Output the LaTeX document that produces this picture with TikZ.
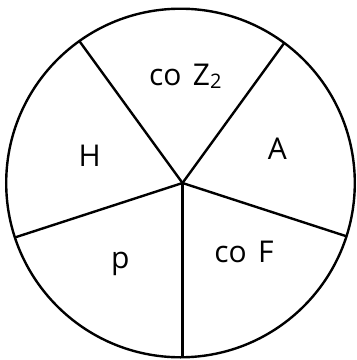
\documentclass[tikz,border=0pt]{standalone}
\usepackage{fontspec}
\setmainfont{Open Sans}
\begin{document}
\begin{tikzpicture}[x=1pt,y=1pt,
  edge/.style={line width=2.4pt},
  lbl/.style={anchor=base,inner sep=0pt,font=\fontsize{30}{36}\selectfont}]
\useasboundingbox (0,0) rectangle (357,-360);
\coordinate (c) at (180.5,-183);
\coordinate (hub) at (182.5,-183);
\draw[edge] (c) circle (174.3);
\path (hub) ++(54:173.1) coordinate (e1);
\path (hub) ++(126:175.5) coordinate (e2);
\path (hub) ++(198:176.2) coordinate (e3);
\path (hub) ++(270:174.3) coordinate (e4);
\path (hub) ++(-18:172.4) coordinate (e5);
\foreach \e in {e1,e2,e3,e4,e5} \draw[edge] (hub) -- (\e);
\node[lbl] (z) at (185.3,-85) {co\hspace{0.38em}Z{\fontsize{20}{22}\selectfont\raisebox{-3.5pt}{2}}};
\node[lbl] (h) at (89.7,-166) {H};
\node[lbl] (a) at (277.3,-159.5) {A};
\node[lbl] (p) at (120.3,-268) {p};
\node[lbl] (f) at (244,-262) {co\hspace{0.38em}F};
\end{tikzpicture}
\end{document}
